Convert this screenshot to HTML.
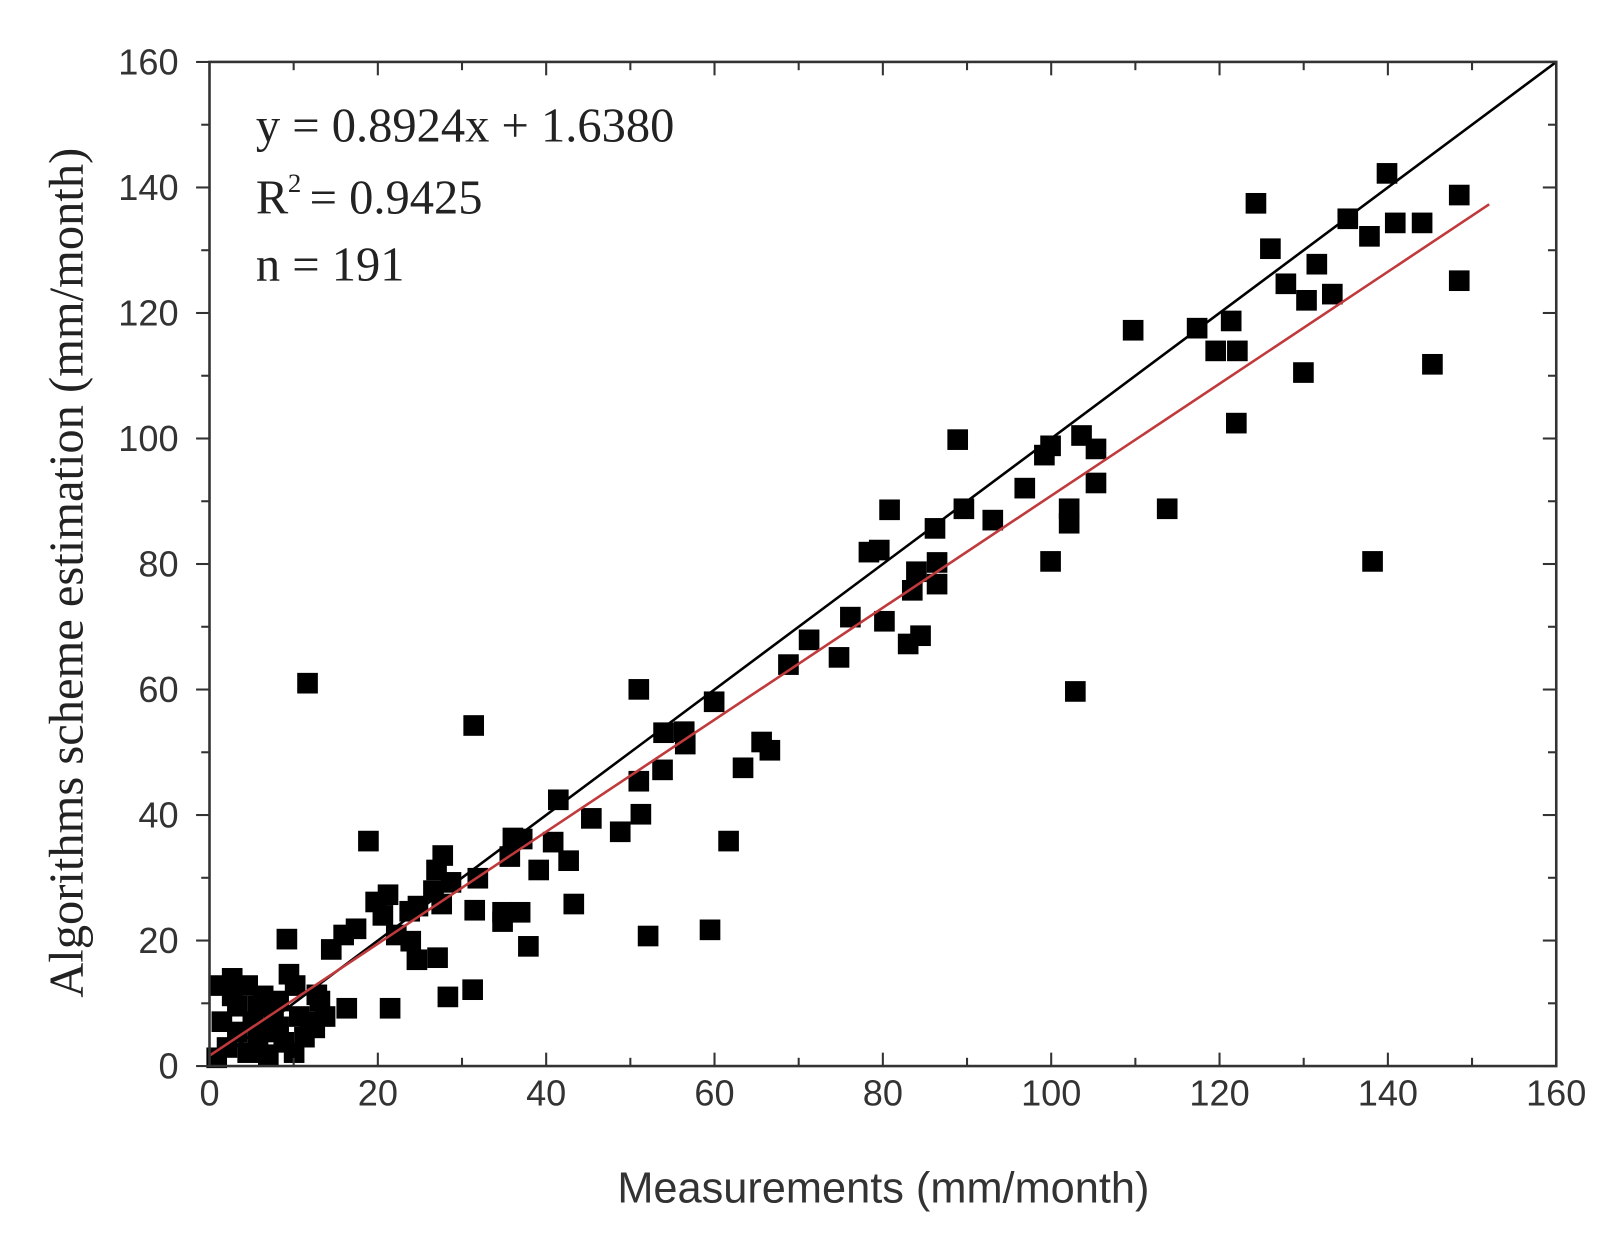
<!DOCTYPE html><html><head><meta charset="utf-8"><style>html,body{margin:0;padding:0;background:#fff}</style></head><body>
<svg width="1617" height="1240" xmlns="http://www.w3.org/2000/svg">
<rect width="1617" height="1240" fill="#fff"/>
<g transform="scale(1.032)">
<g id="pts" fill="#000"></g>
<line x1="203" y1="1033" x2="1508" y2="60" stroke="#000" stroke-width="2.5"/>
<line x1="203" y1="1023" x2="1443" y2="198" stroke="#c0393b" stroke-width="2.5"/>
<rect x="203" y="60" width="1305" height="973" fill="none" stroke="#333" stroke-width="2.5"/>
<g id="ticks" stroke="#333" stroke-width="2"></g>
<g font-family="Liberation Sans, sans-serif" font-size="35" fill="#333" id="labels"></g>
<g font-family="Liberation Serif, serif" font-size="47" fill="#222">
<text x="248" y="137">y = 0.8924x + 1.6380</text>
<text x="248" y="207">R</text><text x="279" y="186" font-size="26">2</text><text x="300" y="207">= 0.9425</text>
<text x="248" y="272">n = 191</text>
<text transform="translate(80,555) rotate(-90)" text-anchor="middle" font-size="47">Algorithms scheme estimation (mm/month)</text>
</g>
<text x="856" y="1165" text-anchor="middle" font-family="Liberation Sans, sans-serif" font-size="42" fill="#333">Measurements (mm/month)</text>
</g>
<script>
var ns="http://www.w3.org/2000/svg";
function X(v){return 203+v*8.156}function Y(v){return 1033-v*6.081}
var t=document.getElementById('ticks'),l=document.getElementById('labels');
function ln(a,b,c,d){var e=document.createElementNS(ns,'line');e.setAttribute('x1',a);e.setAttribute('y1',b);e.setAttribute('x2',c);e.setAttribute('y2',d);t.appendChild(e)}
function tx(x,y,s,a){var e=document.createElementNS(ns,'text');e.setAttribute('x',x);e.setAttribute('y',y);e.setAttribute('text-anchor',a);e.textContent=s;l.appendChild(e)}
for(var v=0;v<=160;v+=10){var big=v%20==0,L=big?13:8;
ln(X(v),1033,X(v),1033-L);ln(X(v),60,X(v),60+L);ln(203,Y(v),203-L,Y(v));ln(1508,Y(v),1508-L,Y(v));
if(big){tx(X(v),1071,v,'middle');tx(173,Y(v)+12,v,'end')}}
var P=[[298,662],[459,703],[619,668],[1042,670],[1330,544],[1344,168],[1217,197],[1414,189],[1306,212],[1352,216],[1378,216],[1327,229],[1231,241],[1276,256],[1246,275],[1291,285],[1266,291],[1414,272],[1098,320],[1160,318],[1193,311],[1178,340],[1199,340],[1388,353],[1263,361],[1198,410],[928,426],[1048,422],[1018,432],[1012,441],[1062,435],[993,473],[1062,468],[1036,493],[1036,507],[1131,493],[934,493],[862,494],[962,504],[906,512],[842,535],[852,533],[1018,544],[908,545],[888,554],[884,572],[908,566],[857,602],[824,598],[880,624],[892,616],[813,637],[784,620],[764,644],[738,719],[746,727],[720,744],[642,746],[619,757],[663,709],[643,710],[692,680],[664,721],[601,806],[621,789],[573,793],[541,775],[551,834],[556,876],[536,816],[522,843],[506,813],[497,812],[494,830],[504,884],[512,917],[460,882],[463,851],[429,829],[423,843],[437,855],[420,863],[428,876],[405,878],[397,883],[371,887],[364,874],[376,867],[384,906],[398,912],[404,930],[424,928],[458,959],[434,966],[357,815],[345,900],[333,906],[321,920],[307,964],[336,977],[378,977],[628,907],[688,901],[706,815],[487,893],[487,884],[278,910],[280,944],[305,996],[310,970],[286,955],
[212,955],[225,948],[240,955],[255,965],[270,970],[290,985],[230,975],[215,990],[245,990],[260,1000],[275,1010],[220,1015],[240,1020],[260,1022],[230,1000],[250,1010],[265,985],[210,1025],[285,1020],[295,1005],[300,990],[315,985],[250,975],[225,965],[270,995]];
var g=document.getElementById('pts');
P.forEach(function(p){var r=document.createElementNS(ns,'rect');r.setAttribute('x',p[0]-10);r.setAttribute('y',p[1]-10);r.setAttribute('width',20);r.setAttribute('height',20);g.appendChild(r)});
</script>
</svg>
</body></html>
